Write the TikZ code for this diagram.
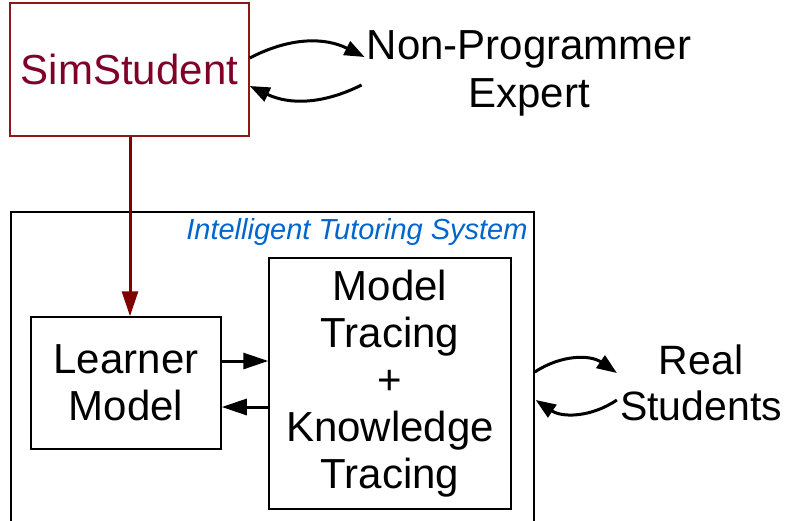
\documentclass[tikz,border=0pt]{standalone}
\usepackage{fontspec}
\setmainfont{Liberation Sans}
\usetikzlibrary{arrows.meta,calc}
\definecolor{simtext}{RGB}{128,0,40}
\definecolor{simbox}{RGB}{140,25,25}
\definecolor{simarrow}{RGB}{128,0,0}
\definecolor{itsblue}{RGB}{0,102,204}
\begin{document}
\begin{tikzpicture}[x=1pt,y=1pt,
  boxed/.style={draw, line width=1.5pt, inner sep=0pt, align=center},
  bigtext/.style={font=\fontsize{42}{47}\selectfont},
  plain/.style={inner sep=0pt, align=center},
  arr/.style={line width=3pt, -{Triangle[length=25pt,width=16pt]}},
  carr/.style={line width=3pt, -{Triangle[length=20pt,width=15pt]}},
]
\clip (0,0) rectangle (787,-520);
% SimStudent
\node[boxed, draw=simbox, text=simtext, bigtext, minimum width=239pt, minimum height=133pt] (sim) at (129.5,-69.5) {SimStudent};
% Non-Programmer Expert
\node[plain, font=\fontsize{42}{48}\selectfont] (npe) at (529,-73.5) {Non-Programmer\\Expert};
% ITS frame
\node[draw, line width=1.5pt, minimum width=523pt, minimum height=328pt, inner sep=0pt] (its) at (272.5,-376) {};
\node[anchor=base east, inner sep=0pt, text=itsblue, font=\fontsize{29}{31}\selectfont\itshape] (itstitle) at ($(its.north east)+(-7,-28)$) {Intelligent Tutoring System};
% Learner Model
\node[boxed, bigtext, minimum width=190pt, minimum height=132pt] (lm) at (126,-383) {Learner\\Model};
% Model Tracing
\node[boxed, bigtext, minimum width=242pt, minimum height=251pt] (mt) at (390,-383.5) {Model\\Tracing\\+\\Knowledge\\Tracing};
% Real Students
\node[plain, font=\fontsize{41}{46}\selectfont] (rs) at (701,-382.5) {Real\\Students};

% red arrow
\draw[arr, draw=simarrow, fill=simarrow] ([xshift=0.5pt]sim.south) -- ([xshift=0.5pt]sim.south |- lm.north);
% LM <-> MT
\draw[arr] ([yshift=22pt]lm.east) -- ([yshift=22pt]lm.east -| mt.west);
\draw[arr] ([yshift=-24pt]lm.east -| mt.west) -- ([yshift=-24pt]lm.east);
% SimStudent <-> expert
\draw[carr] ([yshift=11.5pt]sim.east) to[bend left=27] ($(npe.west)+(-2,16.5)$);
\draw[carr] ($(npe.west)+(-5,-11.5)$) to[bend left=26] ([yshift=-16.5pt]sim.east);
% ITS <-> real students
\draw[carr] ([yshift=4pt]its.east) to[bend left=34] ($(rs.west)+(-3,9.5)$);
\draw[carr] ($(rs.west)+(-3,-17.5)$) to[bend left=34] ([yshift=-24pt,xshift=1pt]its.east);
\end{tikzpicture}
\end{document}
